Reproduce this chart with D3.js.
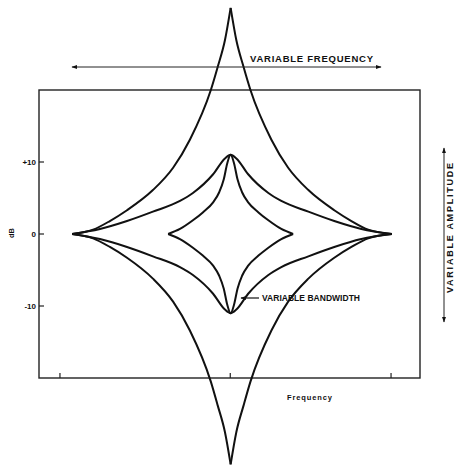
<!DOCTYPE html>
<html>
<head>
<meta charset="utf-8">
<script src="https://cdn.jsdelivr.net/npm/d3@7"></script>
<style>
  body { margin: 0; background: #fff; }
  text { font-family: "Liberation Sans", Arial, sans-serif; font-weight: bold; fill: #111; }
</style>
</head>
<body>
<div id="chart"></div>
<script>
// Size of the page and of the plot box
var svgWidth = 455;
var svgHeight = 467;

var box = { left: 39, right: 420, top: 90, bottom: 378 };

// Frequency positions (0-100 across the box) and gains in dB
// Tall narrow boost / cut (sharp tips)
var wideFreq  = [8.7, 14.2, 18.6, 23.1, 29.9, 35.2, 39.6, 45.1, 46.9, 48.8, 50.3,
                 51.8, 53.7, 55.5, 61.0, 65.4, 70.7, 77.5, 82.0, 86.4, 92.6];
var wideUpper = [0, 0.6, 1.8, 3.3, 6.1, 9.2, 13.1, 20.0, 23.2, 26.9, 31.4,
                 26.9, 23.2, 20.0, 13.1, 9.2, 6.1, 3.3, 1.8, 0.6, 0];
var wideLower = [0, -0.6, -1.8, -3.3, -6.2, -9.4, -13.4, -20.5, -23.8, -27.5, -32.0,
                 -27.5, -23.8, -20.5, -13.4, -9.4, -6.2, -3.3, -1.8, -0.6, 0];

// +/-11 dB curve, broad bandwidth
var broadFreq  = [8.7, 16.0, 23.1, 29.9, 37.0, 40.4, 45.7, 48.8, 50.3,
                  51.8, 54.9, 60.2, 63.6, 70.7, 77.5, 84.6, 92.6];
var broadUpper = [0, 0.7, 1.8, 3.1, 4.6, 5.7, 8.3, 10.5, 11.0,
                  10.5, 8.3, 5.7, 4.6, 3.1, 1.8, 0.7, 0];
var broadLower = [0, -0.7, -1.8, -3.1, -4.6, -5.7, -8.3, -10.5, -11.0,
                  -10.5, -8.3, -5.7, -4.6, -3.1, -1.8, -0.7, 0];

// +/-11 dB curve, narrow bandwidth
var narrowFreq  = [33.9, 37.0, 40.4, 43.0, 45.7, 47.3, 48.5, 49.4, 50.3,
                   51.2, 52.1, 53.3, 54.9, 57.6, 60.2, 63.6, 66.7];
var narrowUpper = [0, 0.7, 1.9, 3.0, 4.4, 5.8, 7.6, 9.8, 11.0,
                   9.8, 7.6, 5.8, 4.4, 3.0, 1.9, 0.7, 0];
var narrowLower = [0, -0.7, -1.9, -3.0, -4.4, -5.8, -7.6, -9.8, -11.0,
                   -9.8, -7.6, -5.8, -4.4, -3.0, -1.9, -0.7, 0];

// Axis ticks
var dbTicks = [10, 0, -10];
var dbTickLabels = ["+10", "0", "-10"];
var freqTicks = [5.5, 50.2, 92.4];

var svg = d3.select("#chart")
    .append("svg")
    .attr("width", svgWidth)
    .attr("height", svgHeight);

// Scales
var xScale = d3.scaleLinear()
    .domain([0, 100])
    .range([box.left, box.right]);
var yScale = d3.scaleLinear()
    .domain([-20, 20])
    .range([box.bottom, box.top]);

// Arrow heads
var defs = svg.append("defs");
defs.append("marker")
    .attr("id", "arrow")
    .attr("viewBox", "0 0 10 10")
    .attr("refX", 9)
    .attr("refY", 5)
    .attr("markerWidth", 6)
    .attr("markerHeight", 6)
    .attr("markerUnits", "userSpaceOnUse")
    .attr("orient", "auto-start-reverse")
    .append("path")
    .attr("d", "M0,1.5 L10,5 L0,8.5 Z")
    .attr("fill", "#111");

// Plot box
svg.append("rect")
    .attr("x", box.left)
    .attr("y", box.top)
    .attr("width", box.right - box.left)
    .attr("height", box.bottom - box.top)
    .attr("fill", "none")
    .attr("stroke", "#222")
    .attr("stroke-width", 1.4);

// dB ticks and labels
svg.selectAll(".dbtick")
    .data(dbTicks)
    .enter()
    .append("line")
    .attr("x1", box.left)
    .attr("x2", box.left + 5)
    .attr("y1", d => yScale(d))
    .attr("y2", d => yScale(d))
    .attr("stroke", "#222")
    .attr("stroke-width", 1.2);

svg.selectAll(".dblabel")
    .data(dbTicks)
    .enter()
    .append("text")
    .attr("x", 36)
    .attr("y", d => yScale(d) + 3)
    .attr("text-anchor", "end")
    .attr("font-size", "8px")
    .text((d, i) => dbTickLabels[i]);

// frequency ticks along the bottom
svg.selectAll(".ftick")
    .data(freqTicks)
    .enter()
    .append("line")
    .attr("x1", d => xScale(d))
    .attr("x2", d => xScale(d))
    .attr("y1", box.bottom)
    .attr("y2", box.bottom - 5)
    .attr("stroke", "#222")
    .attr("stroke-width", 1.2);

// Axis titles
svg.append("text")
    .attr("transform", "translate(14, 233) rotate(-90)")
    .attr("text-anchor", "middle")
    .attr("font-size", "7.5px")
    .text("dB");

svg.append("text")
    .attr("x", 287)
    .attr("y", 400)
    .attr("font-size", "7.5px")
    .attr("textLength", 45)
    .text("Frequency");

// Curves: each half drawn on its own so the tall tips stay pointed
var line = d3.line()
    .x(d => xScale(d[0]))
    .y(d => yScale(d[1]))
    .curve(d3.curveMonotoneX);

function pairs(freq, gain) {
    return freq.map((f, i) => [f, gain[i]]);
}

var wideUp = pairs(wideFreq, wideUpper);
var wideDown = pairs(wideFreq, wideLower);
var peak = wideFreq.indexOf(50.3);
var curves = [
    wideUp.slice(0, peak + 1), wideUp.slice(peak),
    wideDown.slice(0, peak + 1), wideDown.slice(peak),
    pairs(broadFreq, broadUpper), pairs(broadFreq, broadLower),
    pairs(narrowFreq, narrowUpper), pairs(narrowFreq, narrowLower)
];

svg.selectAll(".curve")
    .data(curves)
    .enter()
    .append("path")
    .attr("d", line)
    .attr("fill", "none")
    .attr("stroke", "#111")
    .attr("stroke-width", 2)
    .attr("stroke-linejoin", "round");

// Variable frequency arrow
svg.append("line")
    .attr("x1", 72)
    .attr("x2", 381)
    .attr("y1", 67)
    .attr("y2", 67)
    .attr("stroke", "#222")
    .attr("stroke-width", 1)
    .attr("marker-start", "url(#arrow)")
    .attr("marker-end", "url(#arrow)");

svg.append("text")
    .attr("x", 250)
    .attr("y", 62)
    .attr("font-size", "9.5px")
    .attr("textLength", 123)
    .text("VARIABLE FREQUENCY");

// Variable amplitude arrow
svg.append("line")
    .attr("x1", 444)
    .attr("x2", 444)
    .attr("y1", 148)
    .attr("y2", 322)
    .attr("stroke", "#222")
    .attr("stroke-width", 1)
    .attr("marker-start", "url(#arrow)")
    .attr("marker-end", "url(#arrow)");

svg.append("text")
    .attr("transform", "translate(453, 228) rotate(-90)")
    .attr("text-anchor", "middle")
    .attr("font-size", "9px")
    .attr("textLength", 130)
    .text("VARIABLE AMPLITUDE");

// Variable bandwidth pointer
svg.append("line")
    .attr("x1", 259)
    .attr("x2", 241)
    .attr("y1", 298)
    .attr("y2", 298)
    .attr("stroke", "#111")
    .attr("stroke-width", 1.2)
    .attr("marker-end", "url(#arrow)");

svg.append("text")
    .attr("x", 262)
    .attr("y", 301)
    .attr("font-size", "8.5px")
    .attr("textLength", 98)
    .text("VARIABLE BANDWIDTH");
</script>
</body>
</html>
